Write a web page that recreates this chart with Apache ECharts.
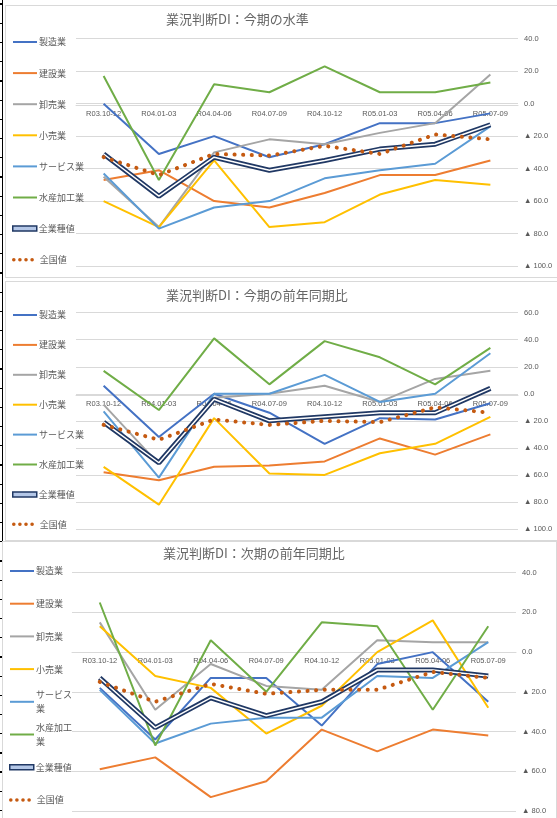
<!DOCTYPE html>
<html lang="ja">
<head>
<meta charset="utf-8">
<title>業況判断DI</title>
<script src="https://cdn.jsdelivr.net/npm/echarts@6/dist/echarts.min.js"></script>
<style>
    html, body {
        margin: 0;
        padding: 0;
        width: 557px;
        height: 818px;
        overflow: hidden;
        background: #fff;
    }
    .edge {
        position: absolute;
        left: 0;
        top: 0;
        width: 2px;
        height: 818px;
        border-right: 1.5px solid #000;
        background: repeating-linear-gradient(to bottom,
            transparent 0, transparent 3.5px,
            #000 3.5px, #000 4.8px,
            transparent 4.8px, transparent 19.2px);
    }
    .panel {
        position: absolute;
        border: 1px solid #d9d9d9;
        background: #fff;
    }
</style>
</head>
<body>
<div class="edge"></div>
<div id="chart-level" class="panel" style="left:5px;top:5px;width:560px;height:271px;"></div>
<div id="chart-yoy" class="panel" style="left:5px;top:281px;width:560px;height:258px;"></div>
<div id="chart-next" class="panel" style="left:2px;top:541px;width:553px;height:285px;"></div>
<script>
// カテゴリ（期）
const categories = ['R03.10-12', 'R04.01-03', 'R04.04-06', 'R04.07-09', 'R04.10-12', 'R05.01-03', 'R05.04-06', 'R05.07-09'];
const seriesNames = ['製造業', '建設業', '卸売業', '小売業', 'サービス業', '水産加工業', '全業種値', '全国値'];

// 業況判断DI：今期の水準
const levelSeizo     = [0, -31, -20, -33, -25, -12, -12, -6];
const levelKensetsu  = [-47, -41, -60, -64, -55, -44, -44, -35];
const levelOroshi    = [-45, -76, -30, -22, -25, -18, -12, 18];
const levelKouri     = [-60, -76, -35, -76, -73, -56, -47, -50];
const levelService   = [-43, -77, -64, -60, -46, -41, -37, -14];
const levelSuisan    = [17, -47, 12, 7, 23, 7, 7, 13];
const levelAll       = [-31, -57, -33, -41, -35, -28, -25, -13];
const levelNational  = [-33, -44, -31, -32, -26, -31, -19, -22];

// 業況判断DI：今期の前年同期比
const yoySeizo       = [6, -32, 0, -14, -37, -18, -19, -7];
const yoyKensetsu    = [-58, -64, -54, -53, -50, -33, -45, -30];
const yoyOroshi      = [-8, -52, -3, 0, 6, -6, 11, 17];
const yoyKouri       = [-54, -82, -18, -59, -60, -44, -37, -17];
const yoyService     = [-13, -62, 0, 0, 14, -6, 0, 30];
const yoySuisan      = [17, -12, 41, 7, 39, 27, 7, 34];
const yoyAll         = [-21, -51, -4, -20, -17, -14, -14, 4];
const yoyNational    = [-23, -34, -19, -23, -20, -21, -10, -14];

// 業況判断DI：次期の前年同期比
const nextSeizo      = [-18, -44, -13, -13, -37, -6, 0, -25];
const nextKensetsu   = [-59, -53, -73, -65, -39, -50, -39, -42];
const nextOroshi     = [15, -29, -6, -17, -19, 6, 5, 5];
const nextKouri      = [13, -12, -18, -41, -27, 0, 16, -28];
const nextService    = [-19, -46, -36, -33, -33, -12, -13, 5];
const nextSuisan     = [25, -47, 6, -20, 15, 13, -29, 13];
const nextAll        = [-13, -38, -23, -32, -25, -9, -9, -12];
const nextNational   = [-15, -25, -16, -21, -19, -19, -10, -13];

// 縦軸の範囲 [min, max, interval]
const levelAxis = [-100, 40, 20];
const yoyAxis   = [-100, 60, 20];
const nextAxis  = [-80, 40, 20];

// 凡例で折り返す名前（次期のみ）
const wrappedNames = { 'サービス業': 'サービス\n業', '水産加工業': '水産加工\n業' };

const TEXT_COLOR = '#595959';
const GRID_COLOR = '#d9d9d9';
const CJK_FONT = '"Noto Sans CJK JP", "Noto Sans", sans-serif';
const NUM_FONT = '"Liberation Sans", Arial, sans-serif';

const seriesStyles = [
    { color: '#4472C4' },
    { color: '#ED7D31' },
    { color: '#A5A5A5' },
    { color: '#FFC000' },
    { color: '#5B9BD5' },
    { color: '#70AD47' },
    { color: '#203864', double: true },
    { color: '#C55A11', dotted: true }
];

/**
 * 系列を作る
 */
function buildSeries(dataList) {
    const series = [];
    dataList.forEach((values, i) => {
        const st = seriesStyles[i];
        const s = {
            name: seriesNames[i],
            type: 'line',
            data: values,
            symbol: 'none',
            emphasis: { disabled: true },
            itemStyle: { color: st.color },
            lineStyle: { color: st.color, width: 2 }
        };
        if (st.dotted) {
            s.lineStyle = { color: st.color, width: 4, type: [0.1, 8.5], cap: 'round' };
        }
        if (st.double) {
            // 二重線：太い紺線の上に白い細線を重ねる
            s.lineStyle.width = 5;
            series.push(s);
            series.push({
                name: seriesNames[i],
                type: 'line',
                data: values,
                symbol: 'none',
                emphasis: { disabled: true },
                itemStyle: { color: st.color },
                lineStyle: { color: '#ffffff', width: 1.5 }
            });
            return;
        }
        series.push(s);
    });
    return series;
}

/**
 * 凡例（1項目ずつ配置）
 */
function buildLegends(firstCenter, step, wrap) {
    return seriesNames.map((name, i) => {
        const center = firstCenter + i * step;
        const st = seriesStyles[i];
        // 線の凡例に付く丸印は消す
        const item = { name: name, itemStyle: { opacity: 0 } };
        if (st.double) {
            item.icon = 'rect';
            item.itemStyle = { color: '#B4C7E7', borderColor: st.color, borderWidth: 1.5, opacity: 1 };
        }
        if (st.dotted) {
            item.lineStyle = { color: st.color, width: 3.5, type: [0.1, 6], cap: 'round' };
        }
        const legend = {
            left: 6,
            top: center - 6,
            padding: 0,
            itemWidth: 24,
            itemHeight: 5,
            data: [item],
            textStyle: { fontSize: 9, color: TEXT_COLOR, fontFamily: CJK_FONT, lineHeight: 12, padding: [0, 0, 0, -3] }
        };
        if (wrap && wrap[name]) {
            legend.top = center - 21;
            legend.formatter = () => wrap[name];
            item.textStyle = { lineHeight: 14, padding: [14, 0, 0, -3] };
        }
        return legend;
    });
}

/**
 * グラフ設定
 */
function buildOption(cfg) {
    return {
        animation: false,
        title: {
            text: cfg.title,
            left: 160,
            top: cfg.titleTop,
            padding: 0,
            textStyle: { fontSize: 13, fontWeight: 'normal', color: '#666666', fontFamily: CJK_FONT, lineHeight: 18 }
        },
        legend: buildLegends(cfg.legendFirst, cfg.legendStep, cfg.wrap),
        grid: { left: cfg.grid[0], right: cfg.grid[1], top: cfg.grid[2], bottom: cfg.grid[3] },
        xAxis: {
            type: 'category',
            data: categories,
            boundaryGap: true,
            position: 'bottom',
            offset: 0,
            axisLine: { onZero: false, lineStyle: { color: GRID_COLOR, width: 1 } },
            axisTick: { show: false },
            axisLabel: { interval: 0, margin: 5, fontSize: 7.5, color: TEXT_COLOR, fontFamily: NUM_FONT }
        },
        yAxis: {
            type: 'value',
            position: 'right',
            min: cfg.axis[0],
            max: cfg.axis[1],
            interval: cfg.axis[2],
            axisLine: { show: false },
            axisTick: { show: false },
            splitLine: { lineStyle: { color: GRID_COLOR, width: 1 } },
            axisLabel: {
                margin: 6,
                fontSize: 7.5,
                color: TEXT_COLOR,
                fontFamily: NUM_FONT,
                formatter: (v) => v < 0 ? '▲ ' + Math.abs(v).toFixed(1) : v.toFixed(1)
            }
        },
        series: buildSeries(cfg.data)
    };
}

const charts = {};

function createChart(id, cfg) {
    const chart = echarts.init(document.getElementById(id));
    chart.setOption(buildOption(cfg));
    // 横軸を0の位置へ移す（縦軸のスケールから求める）
    const zeroPx = chart.convertToPixel({ yAxisIndex: 0 }, 0);
    const minPx = chart.convertToPixel({ yAxisIndex: 0 }, cfg.axis[0]);
    chart.setOption({ xAxis: { offset: zeroPx - minPx } });
    charts[id] = chart;
    return chart;
}

createChart('chart-level', {
    title: '業況判断DI：今期の水準',
    titleTop: 4,
    legendFirst: 36,
    legendStep: 31.1,
    grid: [70, 48, 32.7, 11],
    axis: levelAxis,
    data: [levelSeizo, levelKensetsu, levelOroshi, levelKouri, levelService, levelSuisan, levelAll, levelNational]
});

createChart('chart-yoy', {
    title: '業況判断DI：今期の前年同期比',
    titleTop: 4,
    legendFirst: 33,
    legendStep: 29.9,
    grid: [70, 48, 30.7, 11],
    axis: yoyAxis,
    data: [yoySeizo, yoyKensetsu, yoyOroshi, yoyKouri, yoyService, yoySuisan, yoyAll, yoyNational]
});

createChart('chart-next', {
    title: '業況判断DI：次期の前年同期比',
    titleTop: 2,
    legendFirst: 29,
    legendStep: 32.7,
    wrap: wrappedNames,
    grid: [69, 40, 30.7, 16],
    axis: nextAxis,
    data: [nextSeizo, nextKensetsu, nextOroshi, nextKouri, nextService, nextSuisan, nextAll, nextNational]
});
</script>
</body>
</html>
